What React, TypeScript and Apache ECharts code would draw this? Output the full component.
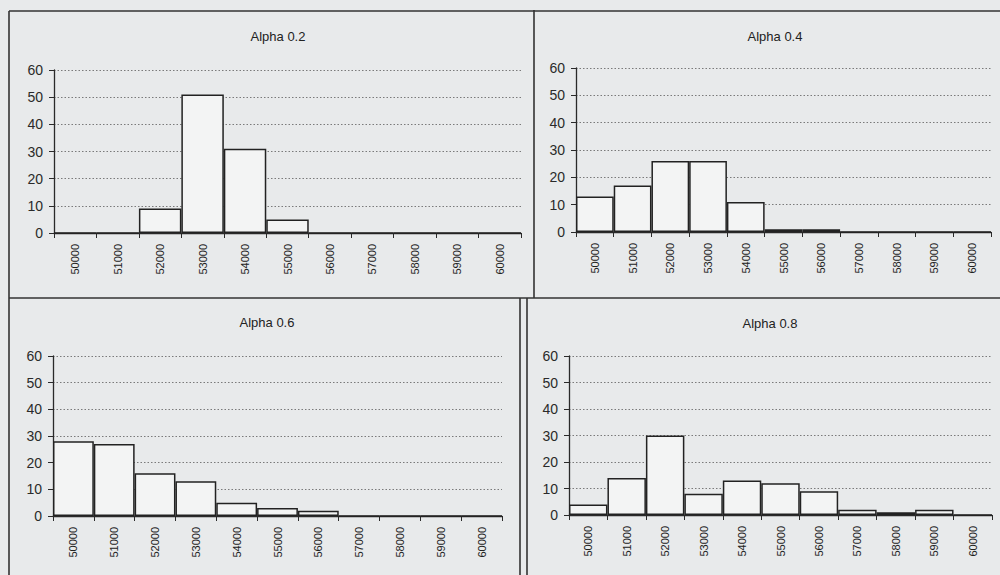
import React, { useEffect, useRef } from "react";
import * as echarts from "echarts";

const bins = ["50000", "51000", "52000", "53000", "54000", "55000", "56000", "57000", "58000", "59000", "60000"];
const titles = ["Alpha 0.2", "Alpha 0.4", "Alpha 0.6", "Alpha 0.8"];
const alpha02 = [0, 0, 9, 51, 31, 5, 0, 0, 0, 0, 0];
const alpha04 = [13, 17, 26, 26, 11, 1, 1, 0, 0, 0, 0];
const alpha06 = [28, 27, 16, 13, 5, 3, 2, 0, 0, 0, 0];
const alpha08 = [4, 14, 30, 8, 13, 12, 9, 2, 1, 2, 0];
const seriesData = [alpha02, alpha04, alpha06, alpha08];

const grids = [
  { left: 54, top: 70, width: 467, height: 163 },
  { left: 576, top: 68, width: 415, height: 164 },
  { left: 53, top: 356, width: 449, height: 160 },
  { left: 569, top: 356, width: 423, height: 159 },
];
const titlePos = [
  { x: 273, y: 25 },
  { x: 770, y: 25 },
  { x: 262, y: 311 },
  { x: 765, y: 312 },
];

const FONT = "Liberation Sans, Arial, sans-serif";
const INK = "#2a2a2a";

export default function App() {
  const ref = useRef<HTMLDivElement>(null);
  useEffect(() => {
    if (!ref.current) return;
    const chart = echarts.init(ref.current, undefined, { renderer: "svg" });
    const line = (x1: number, y1: number, x2: number, y2: number, w = 1.6) => ({
      type: "line",
      shape: { x1, y1, x2, y2 },
      style: { stroke: "#333", lineWidth: w },
      silent: true,
    });
    chart.setOption({
      animation: false,
      backgroundColor: "#e8eaeb",
      title: titles.map((t, i) => ({
        text: t,
        left: titlePos[i].x,
        top: titlePos[i].y,
        textAlign: "center",
        textStyle: { fontFamily: FONT, fontSize: 13, fontWeight: "normal", color: "#222" },
      })),
      grid: grids.map((g) => ({ ...g, containLabel: false })),
      xAxis: grids.map((_, i) => ({
        type: "category",
        gridIndex: i,
        data: bins,
        boundaryGap: true,
        axisLine: { show: true, lineStyle: { color: INK, width: 1.3 } },
        axisTick: { show: true, length: 5, alignWithLabel: false, lineStyle: { color: INK } },
        axisLabel: { rotate: 90, margin: 11, fontFamily: FONT, fontSize: 11, color: "#222", interval: 0 },
        splitLine: { show: false },
      })),
      yAxis: grids.map((_, i) => ({
        type: "value",
        gridIndex: i,
        min: 0,
        max: 60,
        interval: 10,
        axisLine: { show: true, lineStyle: { color: INK, width: 1.3 } },
        axisTick: { show: true, length: 5, lineStyle: { color: INK } },
        axisLabel: { margin: 11, fontFamily: FONT, fontSize: 14, color: "#2a2a2a" },
        splitLine: { show: true, lineStyle: { color: "#7a7a7a", type: [1.5, 2], width: 1 } },
      })),
      series: seriesData.map((d, i) => ({
        type: "bar",
        xAxisIndex: i,
        yAxisIndex: i,
        data: d,
        barCategoryGap: "0%",
        itemStyle: { color: "#f3f4f4", borderColor: "#222", borderWidth: 1.5 },
      })),
      graphic: [
        line(9, 11, 1000, 11),
        line(9, 11, 9, 575),
        line(534, 10, 534, 298),
        line(9, 298, 1000, 298),
        line(520, 298, 520, 575),
        line(527, 298, 527, 575),
      ],
    });
    return () => chart.dispose();
  }, []);
  return (
    <div
      ref={ref}
      style={{ position: "absolute", left: 0, top: 0, width: 1000, height: 575 }}
    />
  );
}
